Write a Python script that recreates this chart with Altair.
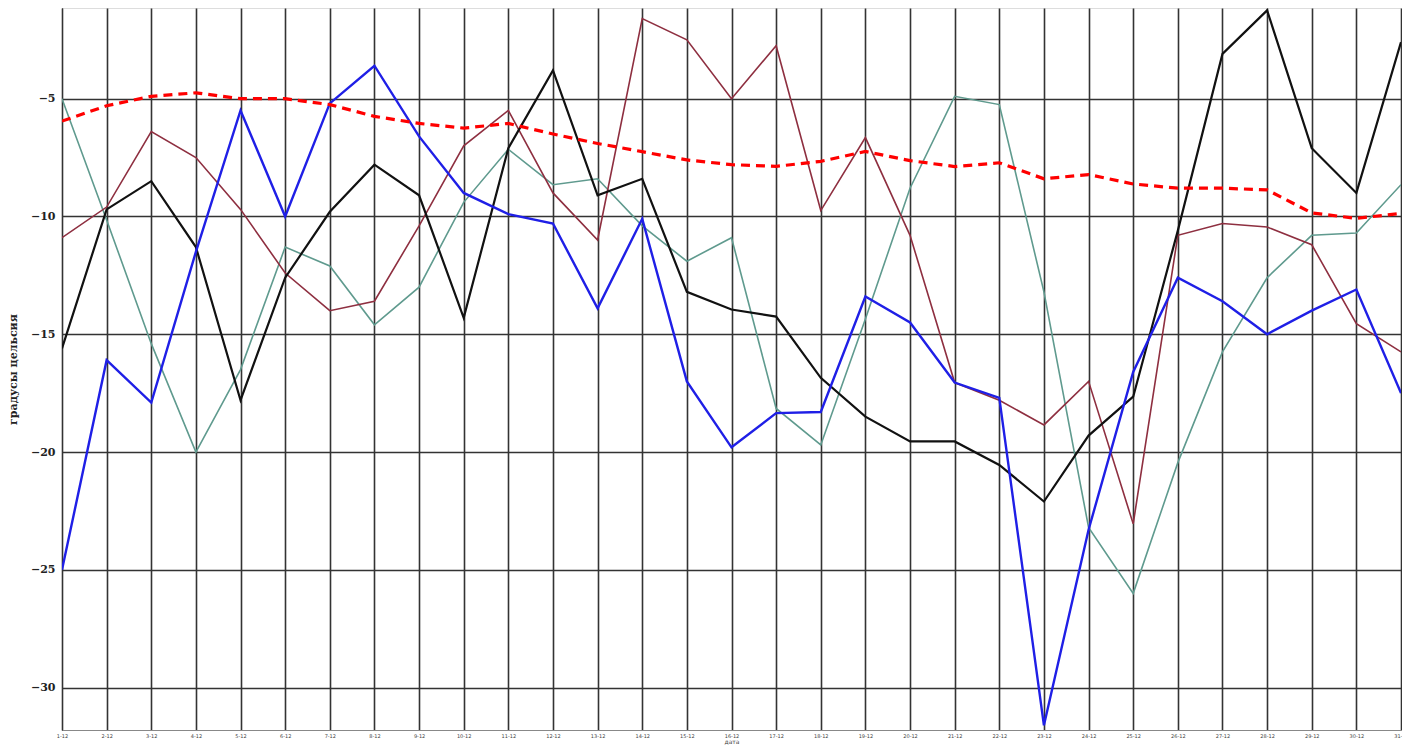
import altair as alt
import pandas as pd

dates = [f"{d}-12" for d in range(1, 32)]

blue = [-25.0, -16.1, -17.9, -11.5, -5.5, -10.0, -5.2, -3.6, -6.6, -9.0, -9.9, -10.3, -13.9, -10.1, -17.0,
        -19.8, -18.35, -18.3, -13.4, -14.5, -17.05, -17.7, -31.6, -23.3, -16.6, -12.6, -13.6, -15.0, -14.0,
        -13.1, -17.5]
black = [-15.6, -9.7, -8.5, -11.3, -17.8, -12.6, -9.8, -7.8, -9.1, -14.3, -7.1, -3.8, -9.1, -8.4, -13.2,
         -13.95, -14.25, -16.85, -18.5, -19.55, -19.55, -20.55, -22.1, -19.3, -17.65, -10.6, -3.1, -1.25,
         -7.1, -9.0, -2.6]
darkred = [-10.9, -9.6, -6.4, -7.5, -9.7, -12.4, -14.0, -13.6, -10.4, -7.0, -5.5, -9.0, -11.0, -1.6, -2.5,
           -5.0, -2.75, -9.75, -6.65, -10.8, -17.05, -17.8, -18.85, -17.0, -23.05, -10.8, -10.3, -10.45,
           -11.2, -14.55, -15.75]
teal = [-5.0, -10.15, -15.4, -20.0, -16.5, -11.3, -12.1, -14.6, -13.0, -9.4, -7.15, -8.65, -8.4, -10.4,
        -11.9, -10.9, -18.15, -19.7, -14.35, -8.8, -4.9, -5.25, -13.2, -23.2, -26.0, -20.45, -15.75, -12.6,
        -10.8, -10.7, -8.65]
normal = [-5.95, -5.3, -4.9, -4.75, -5.0, -5.0, -5.25, -5.75, -6.05, -6.25, -6.05, -6.5, -6.9, -7.25, -7.6,
          -7.8, -7.87, -7.66, -7.24, -7.63, -7.88, -7.72, -8.4, -8.22, -8.62, -8.8, -8.8, -8.87, -9.85,
          -10.08, -9.87]

series = [
    ("teal", teal, "#5f9a8e", 1.6, None),
    ("darkred", darkred, "#8e2f40", 1.6, None),
    ("black", black, "#111111", 2.2, None),
    ("blue", blue, "#1f1fe6", 2.4, None),
    ("normal", normal, "#ff0000", 3.2, [9, 6]),
]

x_enc = alt.X("date:O", sort=dates,
              scale=alt.Scale(type="point", padding=0),
              axis=alt.Axis(title="дата", labelAngle=0, labelFontSize=5, labelFont="DejaVu Sans",
                            labelColor="#444", labelPadding=3, tickSize=0, grid=True,
                            gridColor="#333333", gridWidth=1.6, domainColor="#888888",
                            titleFontSize=6, titleFont="DejaVu Sans", titleFontWeight="normal",
                            titlePadding=0, titleColor="#444"))
y_enc = alt.Y("value:Q",
              scale=alt.Scale(domain=[-31.8, -1.15], nice=False, zero=False),
              axis=alt.Axis(title="градусы цельсия", values=[-30, -25, -20, -15, -10, -5],
                            labelFont="DejaVu Serif", labelFontSize=11, labelFontWeight="bold",
                            labelColor="#222", labelPadding=7, tickSize=0, grid=True,
                            gridColor="#333333", gridWidth=1.6, domainColor="#333333",
                            titleFont="DejaVu Serif", titleFontSize=11, titleFontWeight="bold",
                            titleColor="#222", titlePadding=12))

layers = []
for name, vals, color, width, dash in series:
    df = pd.DataFrame({"date": dates, "value": vals})
    kw = dict(color=color, strokeWidth=width, clip=True)
    if dash:
        kw["strokeDash"] = dash
    layers.append(alt.Chart(df).mark_line(**kw).encode(x=x_enc, y=y_enc))

chart = alt.layer(*layers).properties(
    width=1339, height=722,
    autosize=alt.AutoSizeParams(type="none"),
    padding={"left": 54, "top": 0, "right": 1, "bottom": 15},
).configure_view(stroke="#333333", strokeWidth=1.6).configure(background="white")

chart.save("out.html", embed_options={"renderer": "svg", "actions": False})
